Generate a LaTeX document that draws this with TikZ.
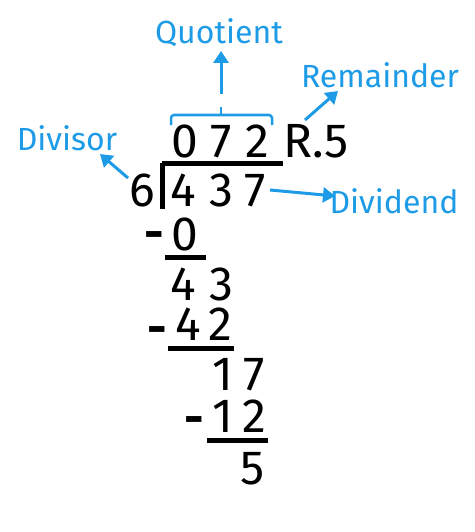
\documentclass[tikz,border=0pt]{standalone}
\usepackage{fontspec}
\setmainfont{Fira Sans}
\usetikzlibrary{arrows.meta}
\definecolor{tagblue}{RGB}{29,155,230}

\begin{document}
\begin{tikzpicture}[x=1pt, y=-1pt,
    digit/.style={inner sep=0pt, anchor=base, text height=34pt, text depth=0pt, font=\fontsize{48}{52}\selectfont},
    minus/.style={inner sep=0pt, anchor=base, text height=20pt, text depth=0pt, font=\fontsize{48}{52}\bfseries},
    tag/.style={inner sep=0pt, tagblue, font=\fontsize{32}{34}\selectfont},
    arr/.style={tagblue, line width=3pt, -{Triangle[length=12pt, width=15pt]}},
    bar/.style={line width=5pt}]
    \useasboundingbox (0,0) rectangle (474,532);

    % quotient row
    \node[digit] (q1) at (185, 157) {0};
    \node[digit] (q2) at (221, 157) {7};
    \node[digit] (q3) at (257, 157) {2};
    \node[digit, anchor=base west] (rem) at (283, 157) {R.5};

    % divisor and dividend
    \node[digit] (divisor) at (142, 206) {6};
    \node[digit] (d1) at (183, 206) {4};
    \node[digit] (d2) at (221, 206) {3};
    \node[digit] (d3) at (255, 206) {7};
    \draw[bar] (162, 163) -- (283, 163);
    \draw[bar] (162, 163) -- (162, 209);

    % steps
    \node[minus] (m1) at (154, 249) {-};
    \node[digit] (s1) at (185, 250) {0};
    \draw[bar] (165, 257) -- (206, 257);
    \node[digit] (a1) at (183, 300) {4};
    \node[digit] (a2) at (221, 300) {3};
    \node[minus] (m2) at (157, 344) {-};
    \node[digit] (s2) at (188, 340) {4};
    \node[digit] (s3) at (220, 340) {2};
    \draw[bar] (168, 348) -- (234, 348);
    \node[digit] (b1) at (223, 390) {1};
    \node[digit] (b2) at (254, 390) {7};
    \node[minus] (m3) at (194, 434) {-};
    \node[digit] (t1) at (223, 432) {1};
    \node[digit] (t2) at (254, 432) {2};
    \draw[bar] (207, 440) -- (268, 440);
    \node[digit] (r1) at (253, 484) {5};

    % labels
    \node[tag] (quotient) at (219, 33) {Quotient};
    \node[tag] (remainder) at (380, 75) {Remainder};
    \node[tag] (divisortag) at (67, 138) {Divisor};
    \node[tag] (dividend) at (394, 201) {Dividend};

    % brace over the quotient
    \draw[tagblue, line width=2.5pt, rounded corners=3pt]
        (171, 125) -- (171, 115) -- (272, 115) -- (272, 125);
    \draw[tagblue, line width=2.5pt] (221, 115) -- (221, 107);

    \coordinate (qfrom) at (221, 94);
    \coordinate (qto) at (221, 51);
    \coordinate (rfrom) at (305, 120);
    \coordinate (rto) at (338, 91);
    \coordinate (vfrom) at (128, 178);
    \coordinate (vto) at (100, 154);
    \coordinate (dfrom) at (270, 190);
    \coordinate (dto) at (335, 196);

    \draw[arr] (qfrom) -- (qto);
    \draw[arr] (rfrom) -- (rto);
    \draw[arr] (vfrom) -- (vto);
    \draw[arr] (dfrom) -- (dto);
\end{tikzpicture}
\end{document}
